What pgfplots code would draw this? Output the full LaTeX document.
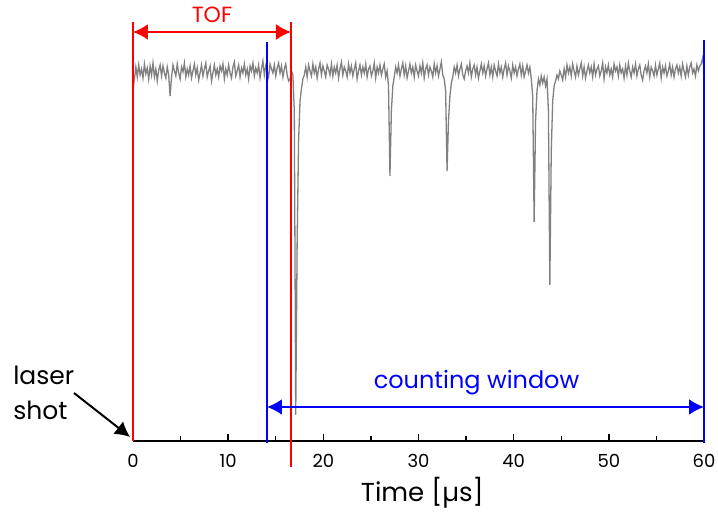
\documentclass[border=0pt]{standalone}
\usepackage{pgfplots}
\usepackage{pgfplotstable}
\pgfplotsset{compat=1.18}
\usetikzlibrary{arrows.meta}
\usepackage{fontspec}
\setmainfont{Poppins}

% detector trace, one value every 0.15 us from 0 to 60 us
\pgfplotstableread[header=false, row sep=\\]{
352\\362\\374\\364\\376\\366\\372\\363\\377\\367\\373\\362\\375\\366\\378\\364\\372\\360\\371\\376\\
365\\375\\368\\363\\374\\366\\345\\364\\376\\370\\365\\377\\368\\362\\374\\369\\378\\364\\372\\366\\
375\\363\\370\\377\\366\\373\\361\\368\\376\\365\\372\\378\\364\\370\\375\\360\\368\\376\\366\\372\\
364\\375\\370\\377\\362\\372\\366\\376\\368\\363\\374\\379\\365\\370\\376\\364\\373\\368\\377\\366\\
372\\362\\375\\370\\378\\365\\373\\368\\376\\363\\372\\380\\366\\375\\370\\364\\377\\372\\368\\376\\
365\\373\\378\\368\\375\\364\\372\\377\\366\\360\\362\\370\\366\\330\\26\\200\\300\\340\\352\\362\\
366\\374\\364\\376\\370\\365\\377\\368\\374\\363\\372\\378\\366\\375\\370\\364\\376\\372\\366\\377\\
365\\374\\368\\376\\363\\372\\379\\366\\374\\370\\364\\377\\368\\375\\365\\372\\378\\362\\370\\376\\
366\\374\\368\\377\\364\\372\\375\\365\\370\\378\\363\\374\\368\\376\\366\\372\\377\\364\\370\\355\\
265\\330\\355\\364\\374\\368\\376\\365\\372\\378\\366\\375\\363\\370\\377\\368\\374\\364\\376\\370\\
365\\375\\368\\378\\363\\372\\376\\366\\374\\370\\364\\377\\368\\375\\365\\372\\379\\366\\362\\350\\
270\\320\\345\\358\\364\\374\\368\\376\\365\\372\\377\\366\\362\\370\\375\\368\\378\\364\\372\\376\\
366\\374\\363\\370\\377\\368\\375\\365\\372\\378\\366\\374\\364\\376\\370\\365\\377\\368\\374\\364\\
372\\378\\366\\375\\370\\363\\376\\368\\374\\365\\372\\377\\366\\375\\364\\370\\376\\368\\374\\362\\
345\\219\\320\\350\\362\\356\\365\\358\\364\\355\\362\\330\\156\\290\\340\\355\\360\\366\\362\\370\\
366\\361\\372\\364\\376\\368\\374\\365\\377\\370\\364\\375\\366\\372\\378\\365\\374\\363\\370\\376\\
368\\374\\364\\377\\366\\372\\375\\365\\370\\378\\362\\374\\368\\376\\366\\372\\364\\377\\370\\374\\
365\\376\\368\\372\\363\\375\\366\\378\\370\\364\\374\\368\\377\\365\\372\\376\\366\\361\\370\\375\\
368\\377\\364\\374\\370\\365\\376\\366\\372\\378\\363\\374\\368\\375\\365\\370\\377\\366\\374\\364\\
372\\376\\368\\374\\365\\377\\370\\364\\375\\366\\374\\378\\368\\372\\365\\376\\370\\375\\377\\383\\
372\\
}\tracedata

\begin{document}
\begin{tikzpicture}
\begin{axis}[
    x=9.517pt, y=1pt,
    xmin=0, xmax=60, ymin=0, ymax=441,
    enlargelimits=false,
    clip=false,
    axis x line=bottom,
    axis y line=none,
    x axis line style={-, line width=1.8pt},
    xtick={0,10,...,60},
    minor x tick num=1,
    tick align=inside,
    major tick length=7pt,
    minor tick length=5pt,
    every tick/.style={black, line width=1.4pt},
    xticklabel style={font=\fontsize{18}{20}\selectfont, yshift=-10pt},
    /pgf/number format/assume math mode=true,
]
  \addplot[gray, line width=1.3pt, mark=none]
    table[x expr=\coordindex*0.15, y index=0] {\tracedata};

  % time of flight
  \draw[red, line width=2pt] (axis cs:0,419) -- (axis cs:0,0);
  \draw[red, line width=2pt] (axis cs:16.6,419) -- (axis cs:16.6,-26);
  \draw[red, line width=2pt, {Latex[length=15pt,width=16pt]}-{Latex[length=15pt,width=16pt]}]
    (axis cs:0,409) -- (axis cs:16.6,409);
  \node[red, font=\fontsize{22}{24}\selectfont] at (axis cs:8.3,426) {TOF};

  % counting window
  \draw[blue, line width=2pt] (axis cs:14.08,399) -- (axis cs:14.08,-2);
  \draw[blue, line width=2pt] (axis cs:60,401) -- (axis cs:60,-2);
  \draw[blue, line width=2pt, {Latex[length=15pt,width=16pt]}-{Latex[length=15pt,width=16pt]}]
    (axis cs:14.08,34) -- (axis cs:60,34);
  \node[blue, font=\fontsize{24}{26}\selectfont] at (axis cs:36.1,58) {counting window};

  % laser shot
  \node[anchor=west, inner sep=0pt, font=\fontsize{25}{27}\selectfont] at (axis cs:-12.6,66) {laser};
  \node[anchor=west, inner sep=0pt, font=\fontsize{25}{27}\selectfont] at (axis cs:-12.6,31) {shot};
  \draw[black, line width=2pt, -{Latex[length=15pt,width=16pt]}]
    (axis cs:-6.2,48) -- (axis cs:-0.3,4);

  \node[font=\fontsize{26}{28}\selectfont] at (axis cs:30.4,-52) {Time [µs]};

  \coordinate (bl) at (axis cs:-13.975,-75);
  \coordinate (tr) at (axis cs:61.47,441);
\end{axis}
\pgfresetboundingbox
\path[use as bounding box] (bl) rectangle (tr);
\end{tikzpicture}
\end{document}
